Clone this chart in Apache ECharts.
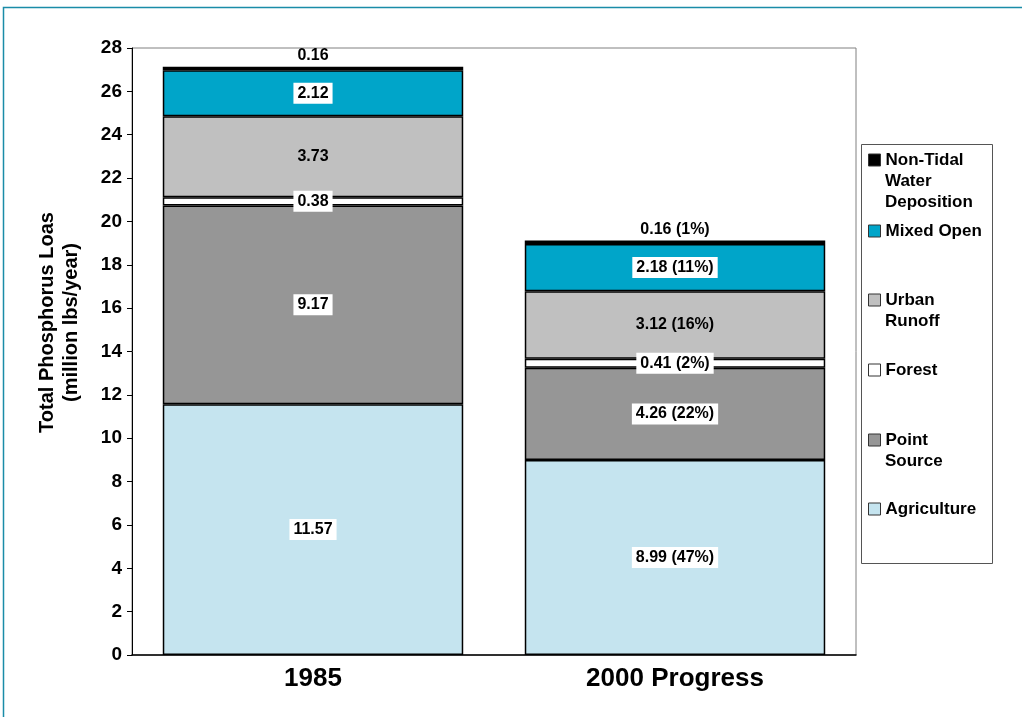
<!DOCTYPE html>
<html><head><meta charset="utf-8">
<script src="https://cdn.jsdelivr.net/npm/echarts@6/dist/echarts.min.js"></script>
<style>html,body{margin:0;padding:0;background:#fff;}#c{width:1022px;height:717px;}</style>
</head><body><div id="c"></div>
<script>
const categories = ['1985', '2000 Progress'];
const seriesNames = ['Agriculture', 'Point Source', 'Forest', 'Urban Runoff', 'Mixed Open', 'Non-Tidal Water Deposition'];
const legendFirstLines = ['Agriculture', 'Point', 'Forest', 'Urban', 'Mixed Open', 'Non-Tidal'];
const legendMoreLines = [[], ['Source'], [], ['Runoff'], [], ['Water', 'Deposition']];
const agriculture = [11.57, 8.99];
const pointSource = [9.17, 4.26];
const forest = [0.38, 0.41];
const urbanRunoff = [3.73, 3.12];
const mixedOpen = [2.12, 2.18];
const nonTidal = [0.16, 0.16];
const pct2000 = [47, 22, 2, 16, 11, 1];
const yTicks = {min: 0, max: 28, interval: 2};

const values = [agriculture, pointSource, forest, urbanRunoff, mixedOpen, nonTidal];
const colors = ['#c5e4ef', '#969696', '#ffffff', '#c0c0c0', '#00a5c9', '#000000'];
const whiteBg = [true, true, true, false, true, false];
const legendCenters = [509, 440, 370, 300, 231, 160];
const legendTextX = 885;
const legendLineH = 21;

const fontFam = '"Liberation Sans", Arial, sans-serif';
const chart = echarts.init(document.getElementById('c'));

const series = values.map((arr, si) => ({
  name: seriesNames[si],
  type: 'bar',
  stack: 'total',
  barWidth: '83%',
  data: arr,
  itemStyle: {color: colors[si], borderColor: '#000', borderWidth: 1.5},
  label: {
    show: true,
    position: si === 5 ? 'top' : 'inside',
    distance: 3,
    formatter: p => p.dataIndex === 0 ? p.value.toFixed(2) : p.value.toFixed(2) + ' (' + pct2000[si] + '%)',
    color: '#000',
    fontFamily: fontFam,
    fontWeight: 'bold',
    fontSize: 16,
    backgroundColor: whiteBg[si] ? '#fff' : 'transparent',
    padding: whiteBg[si] ? [3, 4, 2, 4] : 0
  },
  emphasis: {disabled: true},
  animation: false
}));

const legends = seriesNames.map((n, i) => ({
  orient: 'vertical',
  left: 868,
  top: legendCenters[i] - 10.5,
  data: [n],
  icon: 'rect',
  itemWidth: 12,
  itemHeight: 12,
  itemGap: 0,
  padding: 0,
  selectedMode: false,
  formatter: () => legendFirstLines[i],
  itemStyle: {borderColor: '#333', borderWidth: 1},
  textStyle: {fontFamily: fontFam, fontWeight: 'bold', fontSize: 17, lineHeight: 21, color: '#000'},
  align: 'left'
}));

const extraText = [];
legendMoreLines.forEach((lines, i) => {
  lines.forEach((t, k) => {
    extraText.push({
      type: 'text', silent: true,
      style: {text: t, x: legendTextX, y: legendCenters[i] + (k + 1) * legendLineH,
        fontFamily: fontFam, fontWeight: 'bold', fontSize: 17, fill: '#000', verticalAlign: 'middle', align: 'left'}
    });
  });
});

chart.setOption({
  backgroundColor: '#fff',
  animation: false,
  grid: {left: 132, right: 166, top: 48, bottom: 62, show: true, borderColor: '#808080', borderWidth: 1},
  legend: legends,
  xAxis: {
    type: 'category',
    data: categories,
    axisLine: {lineStyle: {color: '#000', width: 1.5}},
    axisTick: {show: false},
    axisLabel: {fontFamily: fontFam, fontWeight: 'bold', fontSize: 26, color: '#000', margin: 11}
  },
  yAxis: {
    type: 'value',
    min: yTicks.min, max: yTicks.max, interval: yTicks.interval,
    name: 'Total Phosphorus Loas\n(million lbs/year)',
    nameLocation: 'middle',
    nameGap: 49,
    nameTextStyle: {fontFamily: fontFam, fontWeight: 'bold', fontSize: 20, color: '#000', lineHeight: 24, padding: [0, 0, 0, 58]},
    axisLine: {show: true, lineStyle: {color: '#000', width: 1}},
    axisTick: {show: true, length: 5, lineStyle: {color: '#000'}},
    splitLine: {show: false},
    axisLabel: {fontFamily: fontFam, fontWeight: 'bold', fontSize: 19, color: '#000', margin: 10}
  },
  graphic: [
    {type: 'rect', shape: {x: 3.5, y: 7.5, width: 1030, height: 720}, style: {fill: 'none', stroke: '#1a8ca8', lineWidth: 1.5}, silent: true},
    {type: 'rect', shape: {x: 861.5, y: 144.5, width: 131, height: 419}, style: {fill: 'none', stroke: '#555', lineWidth: 1}, silent: true, z: -1}
  ].concat(extraText),
  series: series
});
</script></body></html>
